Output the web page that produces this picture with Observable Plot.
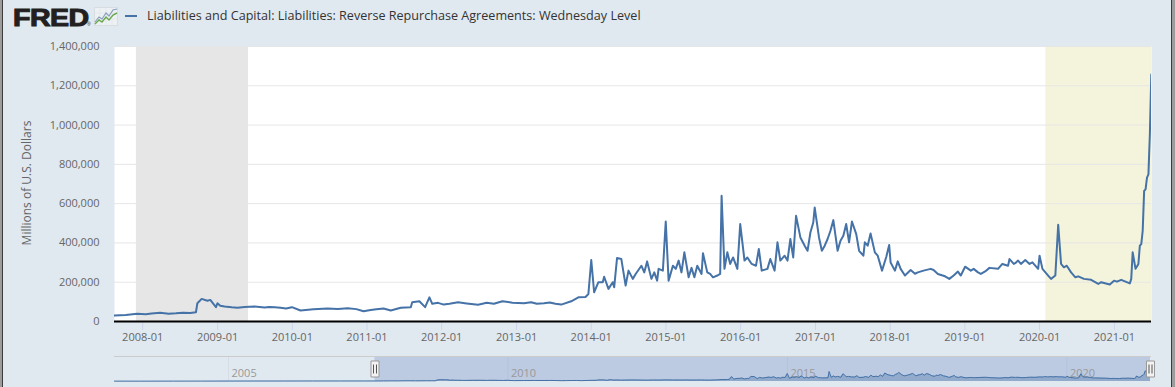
<!DOCTYPE html>
<html><head><meta charset="utf-8">
<script src="https://cdn.jsdelivr.net/npm/d3@7"></script>
<script src="https://cdn.jsdelivr.net/npm/@observablehq/plot@0.6"></script>
<style>
html,body{margin:0;padding:0;width:1175px;height:387px;overflow:hidden;background:#9c9c9c;position:relative;font-family:'Open Sans',sans-serif;}
#frame{position:absolute;left:2px;top:0;width:1168px;height:387px;background:#e1e9f0;border-left:1px solid #3c3c3c;border-right:1px solid #3c3c3c;}
#chart{position:absolute;left:0;top:36px;}
#nav{position:absolute;left:0;top:346px;}
#fred{position:absolute;left:13px;top:4px;font-family:'Liberation Sans',Arial,sans-serif;font-weight:bold;font-size:23px;color:#231f20;letter-spacing:-0.4px;transform:scaleX(1.24);transform-origin:0 0;-webkit-text-stroke:1px #231f20;line-height:28px;}
#reg{position:absolute;left:87px;top:21px;font-size:5px;color:#231f20;font-family:'Liberation Sans',Arial,sans-serif;}
#icon{position:absolute;left:94px;top:7px;}
#legline{position:absolute;left:125px;top:15px;width:12px;height:2px;background:#4572a7;}
#legtext{position:absolute;left:147px;top:6px;font-size:12.6px;color:#333;line-height:20px;white-space:nowrap;}
#ytitle{position:absolute;left:-123px;top:175px;width:300px;text-align:center;font-size:12px;line-height:16px;color:#666;transform:rotate(-90deg);}
</style></head>
<body>
<div id="frame"></div>
<div id="fred">FRED</div>
<div id="reg">®</div>
<svg id="icon" width="24" height="19" viewBox="0 0 24 19">
  <rect x="0.5" y="0.5" width="23" height="18" fill="#eef1f4" stroke="#d8dde2"/>
  <path d="M6 0.5V18.5M12 0.5V18.5M18 0.5V18.5M0.5 6H23.5M0.5 12H23.5" stroke="#dfe3e8" stroke-width="0.6"/>
  <polyline points="1,15 5,10 8,12 12,6 15,9 19,3 23,2" fill="none" stroke="#8a9fbf" stroke-width="1.2"/>
  <polyline points="1,17 5,13 8,15 12,10 15,13 19,8 23,6" fill="none" stroke="#6aa84f" stroke-width="1.4"/>
</svg>
<div id="legline"></div>
<div id="legtext">Liabilities and Capital: Liabilities: Reverse Repurchase Agreements: Wednesday Level</div>
<div id="ytitle">Millions of U.S. Dollars</div>
<div id="chart"></div>
<div id="nav"></div>
<script>
// Weekly levels (millions of U.S. dollars)
const dates = [
"2002-12-18","2003-06-04","2004-01-07","2004-07-07","2005-01-05","2005-07-06","2006-01-04","2006-07-05","2007-01-03","2007-06-06",
"2007-08-15","2007-10-10","2007-12-05","2008-03-26","2008-06-11","2008-09-17","2008-09-24","2008-10-15","2008-11-12","2008-11-26",
"2008-12-24","2008-12-31","2009-02-04","2009-04-08","2009-07-01","2009-10-07","2009-12-02","2009-12-30","2010-02-10","2010-06-23",
"2010-09-29","2010-12-15","2011-03-23","2011-04-27","2011-06-15","2011-08-03","2011-08-10","2011-09-14","2011-10-12","2011-11-02",
"2011-11-16","2012-01-11","2012-03-21","2012-06-27","2012-10-24","2013-02-06","2013-05-15","2013-08-07","2013-09-25","2013-10-30",
"2013-12-04","2013-12-18","2014-01-01","2014-01-15","2014-02-05","2014-02-26","2014-03-05","2014-03-26","2014-04-16","2014-04-23",
"2014-05-07","2014-05-28","2014-06-18","2014-07-02","2014-07-23","2014-08-06","2014-09-03","2014-09-17","2014-10-01","2014-10-22",
"2014-11-05","2014-11-19","2014-11-26","2014-12-17","2014-12-31","2015-01-14","2015-02-04","2015-02-18","2015-03-04","2015-03-18",
"2015-04-01","2015-04-22","2015-05-06","2015-05-20","2015-06-03","2015-06-24","2015-07-01","2015-07-22","2015-08-05","2015-08-19",
"2015-09-09","2015-09-23","2015-09-30","2015-10-14","2015-10-28","2015-11-11","2015-11-25","2015-12-16","2015-12-30","2016-01-20",
"2016-02-03","2016-02-24","2016-03-16","2016-03-30","2016-04-13","2016-05-11","2016-05-25","2016-06-15","2016-06-29","2016-07-13",
"2016-08-03","2016-08-17","2016-08-31","2016-09-14","2016-09-28","2016-10-19","2016-11-09","2016-11-23","2016-12-07","2016-12-21",
"2016-12-28","2017-01-18","2017-02-01","2017-02-15","2017-03-01","2017-03-15","2017-03-29","2017-04-19","2017-05-03","2017-05-17",
"2017-05-31","2017-06-14","2017-06-28","2017-07-19","2017-08-02","2017-08-23","2017-08-30","2017-09-13","2017-09-27","2017-10-18",
"2017-11-01","2017-11-22","2017-12-13","2017-12-27","2018-01-24","2018-02-07","2018-02-21","2018-03-14","2018-04-11","2018-05-16",
"2018-06-13","2018-07-18","2018-08-22","2018-09-26","2018-10-17","2018-11-07","2018-11-28","2018-12-12","2019-01-02","2019-01-30",
"2019-03-06","2019-03-20","2019-05-01","2019-06-12","2019-07-03","2019-07-31","2019-08-07","2019-08-28","2019-09-18","2019-10-02",
"2019-10-23","2019-11-13","2019-11-27","2019-12-25","2020-01-01","2020-01-15","2020-02-12","2020-02-26","2020-03-18","2020-04-01",
"2020-04-15","2020-04-29","2020-05-13","2020-06-03","2020-06-24","2020-08-05","2020-09-09","2020-10-14","2020-11-11","2020-12-09",
"2020-12-30","2021-02-03","2021-03-17","2021-03-24","2021-03-31","2021-04-14","2021-04-28","2021-05-05","2021-05-12","2021-05-19",
"2021-05-26","2021-06-02","2021-06-09","2021-06-16","2021-06-23","2021-06-30",
"2008-01-16","2008-02-13","2008-05-07","2008-07-16","2008-08-20","2009-01-14","2009-03-11","2009-05-13","2009-08-19","2009-09-09",
"2009-11-04","2010-04-14","2010-08-11","2010-11-10","2011-01-19","2011-02-16","2011-12-14","2012-02-08","2012-05-02","2012-08-08",
"2012-09-12","2012-12-12","2013-03-13","2013-04-10","2013-06-12","2013-07-10","2018-01-03","2018-05-02","2018-08-01","2019-02-13",
"2019-04-10","2019-09-04","2020-07-08","2020-10-28","2021-01-13"
];
const values = [
21000,20000,23000,24000,26000,27000,29000,30000,31000,31000,
30000,33000,39000,44000,42000,47000,93000,115000,106000,110000,
73000,93000,76000,70000,76000,73000,66000,73000,56000,66000,
68000,52000,66000,56000,70000,73000,98000,103000,73000,123000,
90000,86000,98000,85000,103000,93000,93000,86000,103000,123000,
125000,140000,313000,149000,200000,200000,228000,166000,200000,174000,
323000,318000,183000,259000,217000,242000,284000,250000,306000,217000,
250000,208000,268000,259000,509000,208000,284000,268000,310000,250000,
352000,225000,273000,225000,284000,242000,347000,250000,242000,225000,
234000,242000,640000,268000,352000,293000,326000,268000,496000,310000,
326000,293000,284000,369000,259000,268000,318000,259000,403000,310000,
335000,310000,420000,326000,538000,428000,386000,360000,453000,504000,
580000,428000,360000,386000,420000,462000,516000,360000,411000,436000,
496000,403000,509000,445000,360000,335000,403000,386000,448000,352000,
335000,259000,330000,389000,259000,306000,268000,234000,262000,250000,
259000,268000,242000,230000,217000,234000,254000,234000,279000,259000,
250000,242000,273000,268000,293000,284000,318000,293000,310000,293000,
313000,293000,301000,268000,335000,268000,234000,217000,234000,492000,
293000,276000,284000,250000,225000,217000,212000,191000,196000,188000,
208000,212000,194000,217000,352000,268000,293000,386000,394000,462000,
665000,673000,732000,749000,953000,1257000,
37000,41000,40000,45000,43000,80000,72000,74000,71000,74000,
70000,62000,64000,63000,58000,62000,95000,90000,92000,95000,
90000,96000,98000,90000,97000,90000,300000,243000,262000,268000,
255000,297000,230000,200000,203000
];
const yTicks = [0,200000,400000,600000,800000,1000000,1200000,1400000];
const xTickYears = [2008,2009,2010,2011,2012,2013,2014,2015,2016,2017,2018,2019,2020,2021];
const navTickYears = [2005,2010,2015,2020];
const recessionStarts = ["2007-12-01"];
const recessionEnds = ["2009-06-01"];
const covidStart = "2020-02-01";
const viewStart = "2007-08-16";
const viewEnd = "2021-07-01";
const seriesStart = "2002-12-18";
const seriesEnd = "2021-06-30";

const D = s => new Date(s + "T00:00:00Z");
const data = dates.map((d, i) => ({date: D(d), value: values[i]})).sort((a, b) => a.date - b.date);
const recessions = recessionStarts.map((s, i) => ({start: D(s), end: D(recessionEnds[i])}));
const covid = [{start: D(covidStart), end: D(viewEnd)}];
const xTicks = xTickYears.map(y => new Date(Date.UTC(y, 0, 1)));
const navTicks = navTickYears.map(y => new Date(Date.UTC(y, 0, 1)));

const main = Plot.plot({
  width: 1175, height: 310,
  marginLeft: 114, marginRight: 24, marginTop: 10, marginBottom: 25,
  style: {background: "transparent", fontFamily: "'Open Sans', sans-serif", fontSize: "11px", color: "#666", overflow: "visible"},
  x: {type: "utc", domain: [D(viewStart), D(viewEnd)]},
  y: {domain: [0, 1400000]},
  marks: [
    Plot.frame({fill: "white", stroke: null}),
    Plot.rect(covid, {x1: "start", x2: "end", fill: "#f4f4dc"}),
    Plot.gridY(yTicks.filter(v => v > 0), {stroke: "#e6e6e6", strokeOpacity: 1}),
    Plot.rect(recessions, {x1: "start", x2: "end", fill: "#e6e6e6"}),
    Plot.axisY(yTicks, {tickSize: 0, tickPadding: 15, tickFormat: d3.format(","), fill: "#666", label: null}),
    Plot.axisX(xTicks, {tickSize: 9, tickPadding: 3, stroke: "#ccd6eb", fill: "#666", tickFormat: d3.utcFormat("%Y-%m"), label: null}),
    Plot.lineY(data, {x: "date", y: "value", stroke: "#4572a7", strokeWidth: 2, clip: true}),
    Plot.ruleY([0], {stroke: "#000", strokeWidth: 2})
  ]
});
document.getElementById("chart").appendChild(main);

const handleBox = {draw(ctx) { ctx.moveTo(-4, -8); ctx.lineTo(4, -8); ctx.lineTo(4, 8); ctx.lineTo(-4, 8); ctx.closePath(); }};
const handleGrip = {draw(ctx) { ctx.moveTo(-1.5, -4.5); ctx.lineTo(-1.5, 4.5); ctx.moveTo(1.5, -4.5); ctx.lineTo(1.5, 4.5); }};
const selection = [{start: D(viewStart), end: D(seriesEnd)}];
const handles = [D(viewStart), D(seriesEnd)];

const nav = Plot.plot({
  width: 1175, height: 41,
  marginLeft: 114, marginRight: 25, marginTop: 10, marginBottom: 6,
  style: {background: "transparent", fontFamily: "'Open Sans', sans-serif", fontSize: "11px", overflow: "visible"},
  x: {type: "utc", domain: [D(seriesStart), D(seriesEnd)], axis: null},
  y: {domain: [0, 1600000], axis: null},
  marks: [
    Plot.gridX(navTicks, {stroke: "#d6dde6", strokeOpacity: 1}),
    Plot.rect(selection, {x1: "start", x2: "end", fill: "rgb(102,133,194)", fillOpacity: 0.3}),
    Plot.areaY(data, {x: "date", y: "value", fill: "#4572a7", fillOpacity: 0.35}),
    Plot.text(navTicks, {x: d => d, text: d => String(d.getUTCFullYear()), frameAnchor: "bottom", dy: -8, dx: 3, textAnchor: "start", lineAnchor: "middle", fill: "#999"}),
    Plot.lineY(data, {x: "date", y: "value", stroke: "#4572a7", strokeWidth: 1}),
    Plot.frame({anchor: "top", stroke: "#cccccc"}),
    Plot.dot(handles, {x: d => d, symbol: handleBox, fill: "#f2f2f2", stroke: "#999", strokeWidth: 1}),
    Plot.dot(handles, {x: d => d, symbol: handleGrip, fill: "none", stroke: "#555", strokeWidth: 1})
  ]
});
document.getElementById("nav").appendChild(nav);
</script>
</body></html>
